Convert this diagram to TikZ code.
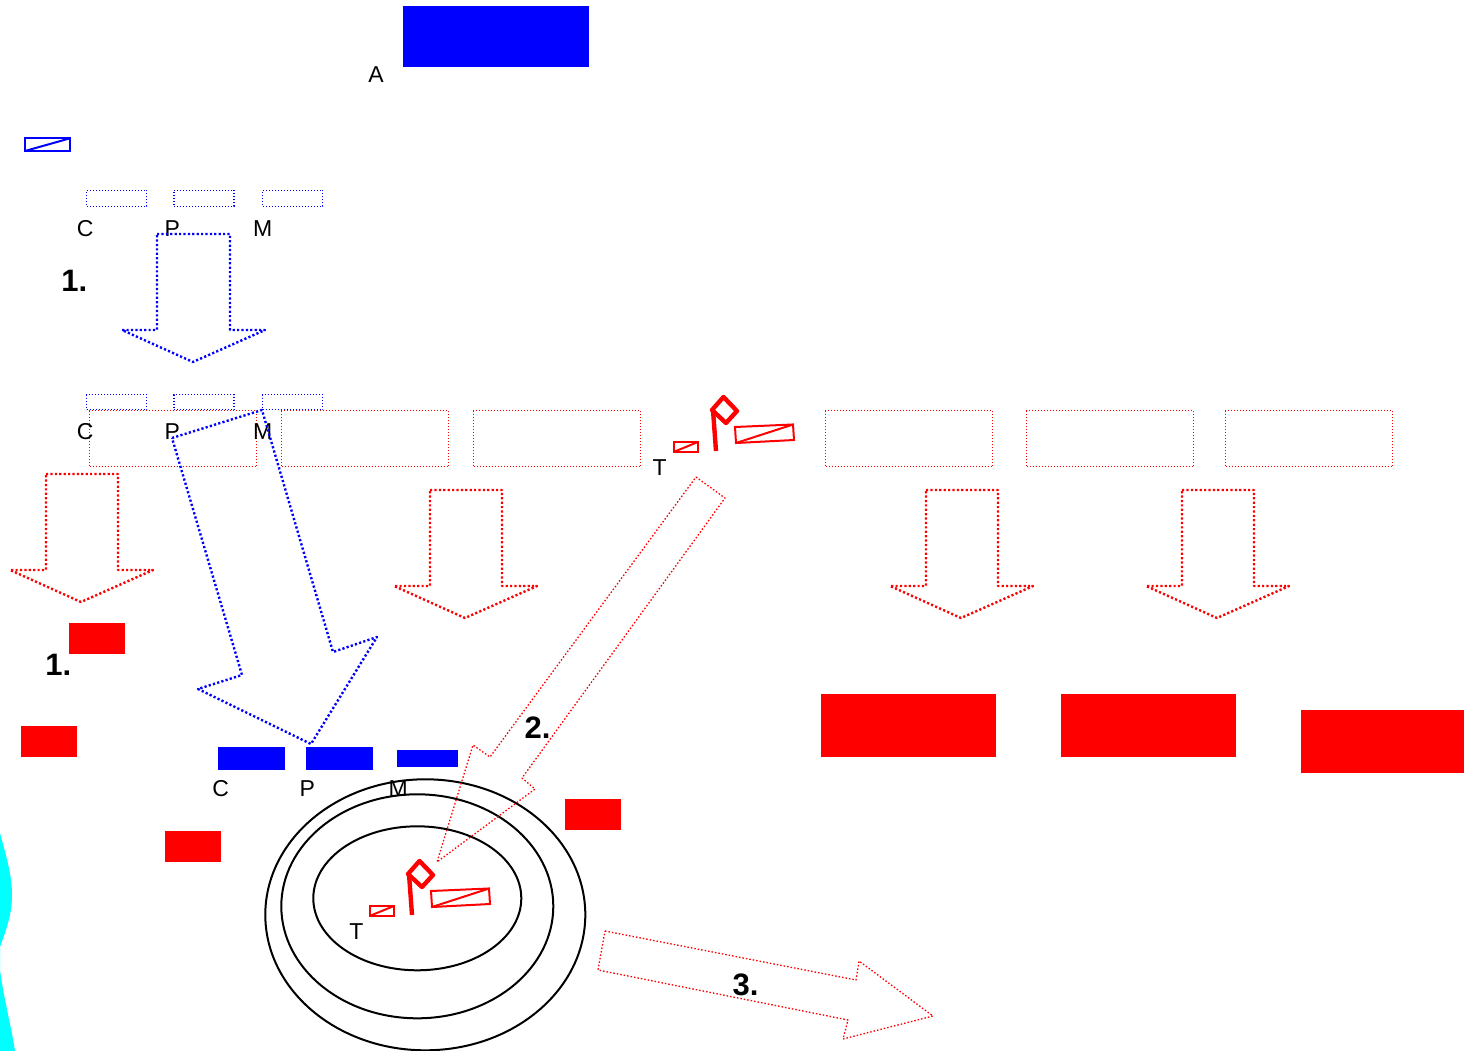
\documentclass[tikz,border=0pt]{standalone}
\usepackage{fontspec}
\usetikzlibrary{shapes.geometric}
\setmainfont{Liberation Sans}
\definecolor{pureblue}{RGB}{0,0,255}
\definecolor{purered}{RGB}{255,0,0}
\definecolor{purecyan}{RGB}{0,255,255}
\tikzset{
  box/.style={inner sep=0pt,outer sep=0pt,rectangle},
  bluedot/.style={box,draw=pureblue,line width=1.2pt,dash pattern=on 1pt off 2pt},
  reddot/.style={box,draw=purered,line width=1.2pt,dash pattern=on 1pt off 2pt,minimum width=167pt,minimum height=56pt},
  bluefill/.style={box,fill=pureblue},
  redfill/.style={box,fill=purered},
  lab/.style={font=\fontsize{23}{26}\selectfont,inner sep=0pt,text=black},
  numlab/.style={font=\fontsize{31}{34}\selectfont\bfseries,inner sep=0pt,text=black},
  bluearrow/.style={draw=pureblue,line width=2.4pt,dash pattern=on 2.2pt off 2.2pt,line join=round},
  redarrow/.style={draw=purered,line width=2.4pt,dash pattern=on 2.2pt off 2.2pt,line join=round},
  thinarrow/.style={draw=purered,line width=1.3pt,dash pattern=on 1.5pt off 2pt,line join=round},
  ring/.style={draw=black,line width=2pt},
  flagthick/.style={draw=purered,line width=4.4pt,line join=round},
  flagthin/.style={draw=purered,line width=2pt},
  blueflag/.style={draw=pureblue,line width=2pt},
}
\newcommand{\flagshape}[2]{%
  \begin{scope}[shift={(#1,#2)}]
    \draw[flagthick] (723.5,397) -- (737,411) -- (726,423) -- (712,410) -- cycle;
    \draw[flagthick] (713,410) -- (716,451);
    \draw[flagthin] (735,427) -- (793,424.5) -- (794,440) -- (736,443) -- cycle;
    \draw[flagthin] (736,443) -- (793,424.5);
    \draw[flagthin] (673.5,442) -- (698,442) -- (698,452) -- (673.5,452) -- cycle;
    \draw[flagthin] (673.5,452) -- (698,442);
  \end{scope}}
\begin{document}
\begin{tikzpicture}[x=1pt,y=-1pt]
\useasboundingbox (0,0) rectangle (1464,1051);
% cyan edge shape
\fill[purecyan] (0,833) .. controls (6,855) and (12,875) .. (12,895)
  .. controls (12,915) and (6,930) .. (0,947) -- (0,970)
  .. controls (4,1000) and (11,1025) .. (15,1051) -- (0,1051) -- cycle;
% rings
\node[ring,ellipse,inner sep=0pt,minimum width=320pt,minimum height=271pt] (ringA) at (425.3,914.8) {};
\node[ring,ellipse,inner sep=0pt,minimum width=272pt,minimum height=224pt] (ringB) at (417.3,906.3) {};
\node[ring,ellipse,inner sep=0pt,minimum width=208pt,minimum height=144pt] (ringC) at (417.3,898.3) {};
% filled
\node[bluefill,minimum width=186pt,minimum height=61pt] (top) at (496.3,36.7) {};
\node[lab] (labA) at (376,75) {A};
\node[bluefill,minimum width=67pt,minimum height=23pt] (fillC) at (251.7,758.7) {};
\node[bluefill,minimum width=67pt,minimum height=23pt] (fillP) at (339.7,758.7) {};
\node[bluefill,minimum width=61pt,minimum height=17pt] (fillM) at (427.7,758.7) {};
\node[redfill,minimum width=56pt,minimum height=31pt] (r1) at (97.3,638.8) {};
\node[redfill,minimum width=56pt,minimum height=31pt] (r2) at (49.3,741.8) {};
\node[redfill,minimum width=56pt,minimum height=31pt] (r3) at (193.3,846.8) {};
\node[redfill,minimum width=56pt,minimum height=31pt] (r4) at (593.3,814.8) {};
\node[redfill,minimum width=175pt,minimum height=63pt] (r5) at (908.8,725.8) {};
\node[redfill,minimum width=175pt,minimum height=63pt] (r6) at (1148.8,725.8) {};
\node[redfill,minimum width=163pt,minimum height=63pt] (r7) at (1382.8,741.8) {};
% red dotted boxes
\node[reddot] (d1) at (173,438.5) {};
\node[reddot] (d2) at (365,438.5) {};
\node[reddot] (d3) at (557,438.5) {};
\node[reddot] (d4) at (909,438.5) {};
\node[reddot] (d5) at (1110,438.5) {};
\node[reddot] (d6) at (1309,438.5) {};
% small blue parts
\draw[blueflag] (25,138.3) rectangle (70,151);
\draw[blueflag] (25,151) -- (70,138.3);
\node[bluedot,minimum width=60pt,minimum height=16pt] (b1) at (116.5,198.5) {};
\node[bluedot,minimum width=60pt,minimum height=16pt] (b2) at (204,198.5) {};
\node[bluedot,minimum width=60pt,minimum height=16pt] (b3) at (292.5,198.5) {};
\node[bluedot,minimum width=60pt,minimum height=15pt] (b4) at (116.5,402) {};
\node[bluedot,minimum width=60pt,minimum height=15pt] (b5) at (204,402) {};
\node[bluedot,minimum width=60pt,minimum height=15pt] (b6) at (292.5,402) {};
% labels
\node[lab] (c1) at (85.3,228.5) {C};
\node[lab] (p1) at (172.3,228.5) {P};
\node[lab] (m1) at (262.7,228.5) {M};
\node[lab] (c2) at (85.3,431.5) {C};
\node[lab] (p2) at (172.3,431.5) {P};
\node[lab] (m2) at (262.7,431.5) {M};
\node[lab] (c3) at (220.7,788.5) {C};
\node[lab] (p3) at (307.3,788.5) {P};
\node[lab] (m3) at (398.3,788.5) {M};
\node[lab] (t1) at (659.7,467.7) {T};
\node[lab] (t2) at (356.3,931.7) {T};
% block arrows
\draw[bluearrow] (157,234) -- (230,234) -- (230,330) -- (265,330) -- (193,362) -- (122,330) -- (157,330) -- cycle;
\draw[redarrow] (46,474) -- (118,474) -- (118,570) -- (153,570) -- (81,602) -- (10,570) -- (46,570) -- cycle;
\draw[redarrow] (430,490) -- (502,490) -- (502,586) -- (537,586) -- (465,618) -- (394,586) -- (430,586) -- cycle;
\draw[redarrow] (926,490) -- (998,490) -- (998,586) -- (1033,586) -- (961,618) -- (890,586) -- (926,586) -- cycle;
\draw[redarrow] (1182,490) -- (1254,490) -- (1254,586) -- (1289,586) -- (1217,618) -- (1146,586) -- (1182,586) -- cycle;
\draw[bluearrow] (172,438) -- (262,410) -- (333,652) -- (377,637) -- (311,744) -- (198,689) -- (242,675) -- cycle;
\draw[thinarrow] (696,477) -- (725,498) -- (522,778) -- (535,789) -- (437,862) -- (473,745) -- (490,757) -- cycle;
\draw[thinarrow] (605,931) -- (856,980) -- (859,961) -- (933,1016) -- (843,1039) -- (848,1020) -- (598,970) -- cycle;
% flags
\flagshape{0}{0}
\flagshape{-304}{464}
% numbers
\node[numlab] (n1) at (74.4,281) {1.};
\node[numlab] (n2) at (58.4,665) {1.};
\node[numlab] (n3) at (537.6,728) {2.};
\node[numlab] (n4) at (745.6,985) {3.};
\end{tikzpicture}
\end{document}
